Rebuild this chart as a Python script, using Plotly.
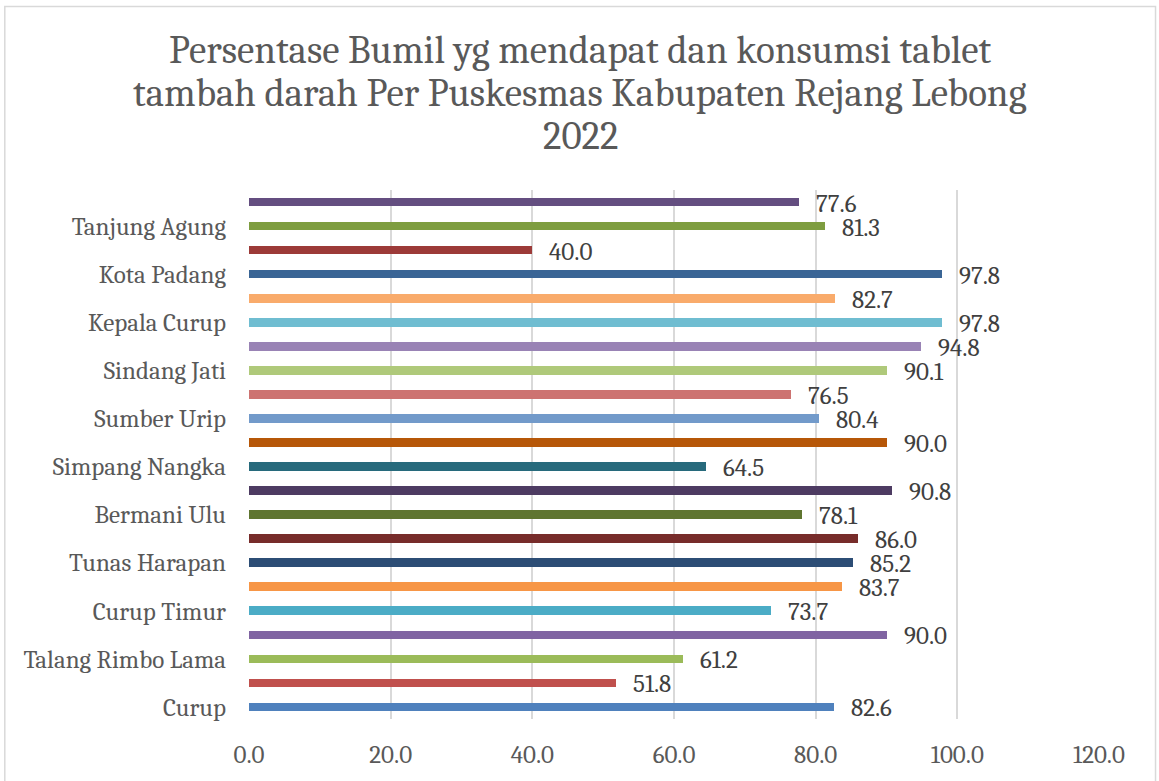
import plotly.graph_objects as go

# ---- data (bottom to top, as in the chart) ----
puskesmas = ['Curup', 'Talang Rimbo Lama', 'Curup Timur', 'Tunas Harapan',
             'Bermani Ulu', 'Simpang Nangka', 'Sumber Urip', 'Sindang Jati',
             'Kepala Curup', 'Kota Padang', 'Tanjung Agung']
persen = [82.6, 51.8, 61.2, 90.0, 73.7, 83.7, 85.2, 86.0, 78.1, 90.8, 64.5,
          90.0, 80.4, 76.5, 90.1, 94.8, 97.8, 82.7, 97.8, 40.0, 81.3, 77.6]
x_ticks = [0, 20, 40, 60, 80, 100, 120]
judul = ['Persentase Bumil yg mendapat dan konsumsi tablet',
         'tambah darah Per Puskesmas Kabupaten Rejang Lebong',
         '2022']

# excel "vary colors by point" palette
warna = ['#4F81BD', '#C0504D', '#9BBB59', '#8064A2', '#4BACC6', '#F79646',
         '#2C4D75', '#772C2A', '#5F7530', '#4D3B62', '#276A7C', '#B65708',
         '#729ACA', '#CD7371', '#AFC97A', '#9983B5', '#6FBDD1', '#F9AB6B',
         '#3A6595', '#9C3A38', '#7E9D40', '#644E80']

FONT = 'Cambria, DejaVu Serif, serif'
pos = list(range(len(persen)))

fig = go.Figure()
fig.add_trace(go.Bar(
    x=persen, y=pos, orientation='h',
    marker=dict(color=warna, line=dict(width=0)),
    width=0.36, hoverinfo='x'
))

# data labels, a bit off the end of each bar
for p, v in zip(pos, persen):
    fig.add_annotation(x=v, y=p, text=f'{v:.1f}', showarrow=False,
                       xanchor='left', yanchor='middle', xshift=15, yshift=-1,
                       font=dict(family=FONT, size=25, color='#404040'))

# title lines placed one by one (excel line spacing is tighter than plotly's)
plot_h = 781 - 190 - 58
for i, baris in enumerate(judul):
    mid_px = 49 + i * 43.3
    fig.add_annotation(text=baris, xref='paper', yref='paper',
                       x=(580.5 - 249.3) / 850.2, y=(723 - mid_px) / plot_h,
                       xanchor='center', yanchor='middle', showarrow=False,
                       font=dict(family=FONT, size=39, color='#595959'))

fig.update_layout(
    width=1159, height=781,
    margin=dict(l=249, r=60, t=190, b=58),
    paper_bgcolor='white', plot_bgcolor='white',
    showlegend=False, bargap=0,
    xaxis=dict(range=[0, 120], tickvals=x_ticks,
               ticktext=[f'{t:.1f}' for t in x_ticks],
               showgrid=True, gridcolor='#D9D9D9', gridwidth=1.5,
               zeroline=False, showline=False, ticks='',
               ticklabelstandoff=18,
               tickfont=dict(family=FONT, size=25, color='#595959')),
    yaxis=dict(range=[-0.5, len(persen) - 0.5],
               tickvals=pos[::2], ticktext=puskesmas,
               showgrid=False, zeroline=False, showline=False, ticks='',
               ticklabelstandoff=22,
               tickfont=dict(family=FONT, size=25, color='#595959')),
    shapes=[dict(type='rect', xref='paper', yref='paper',
                 x0=-0.2873, x1=1.0665, y0=-0.2, y1=1.347,
                 line=dict(color='#D9D9D9', width=1.5), fillcolor='rgba(0,0,0,0)',
                 layer='below')]
)

# drop the browser's default body margin so the figure sits at 0,0
fig.write_html('out.html', config={'displayModeBar': False},
               post_script="document.body.style.margin='0px';")
